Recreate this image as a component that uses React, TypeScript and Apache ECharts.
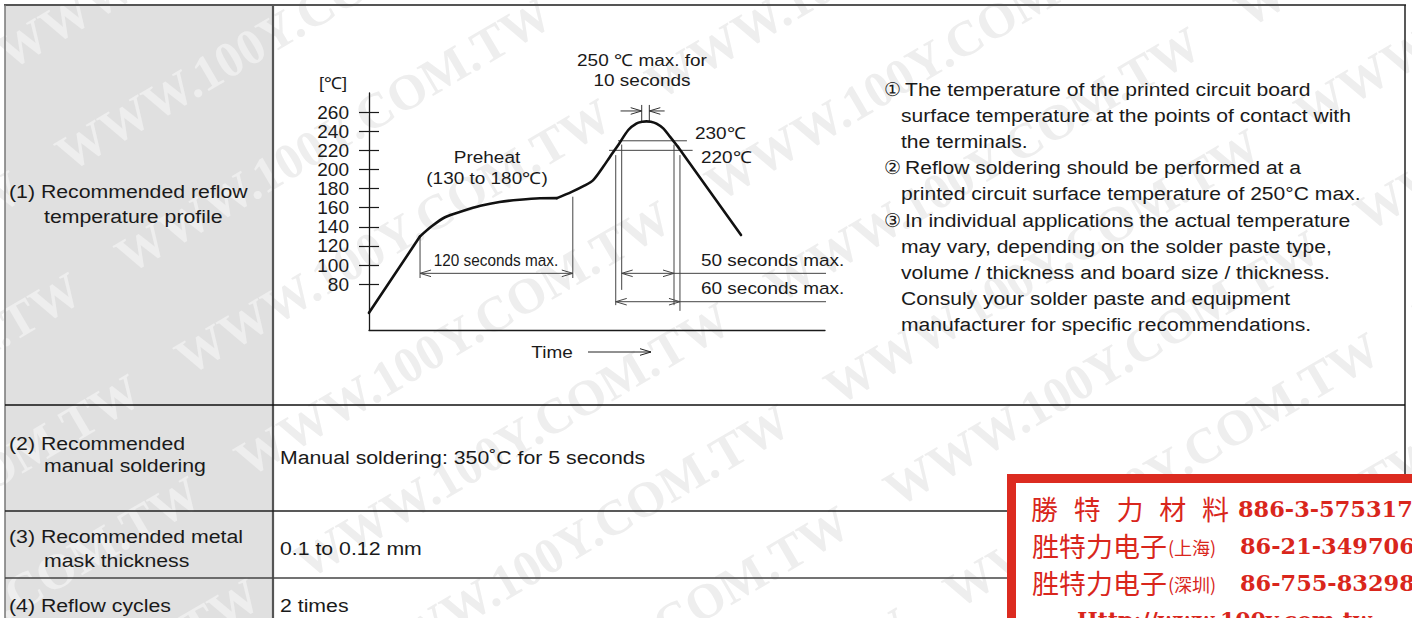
import React, { useEffect, useRef } from "react";
import * as echarts from "echarts";

// ---------------- data ----------------
const yTickValues = [80, 100, 120, 140, 160, 180, 200, 220, 240, 260];

// reflow profile: time [s] / temperature [°C]
const profileTime = [0, 40.3, 50, 60, 74, 88, 103, 119, 135, 148.4, 160, 170, 177, 185, 190.3, 196.8, 204.7, 211, 216, 219, 222.5, 227, 232.3, 237.6, 244, 293.7];
const profileTemp = [50, 130, 141, 150, 156.5, 162, 166, 168.3, 169.8, 170, 176.5, 183, 188.8, 203, 213.4, 225.6, 241.3, 248, 250, 250.3, 250, 248, 243, 234.3, 223.5, 131.4];

// limit lines (230 °C and 220 °C)
const limitTemps = [230, 220];
const limitStart = [196.6, 189.5];
const limitEnd = [251, 255.5];

// vertical guides of the 50 s / 60 s windows
const guideTimes = [194.8, 199.5, 240.8, 245.5];
const guideTop = [215, 226, 226, 215];
const guideBottom = [58, 74, 58, 52];

// preheat window (120 s max.)
const preheatWindow = [40.3, 160.9];
const preheatGuideTop = [130, 171.5];
const preheatGuideBottom = 86.4;
const preheatArrowTemp = 91.3;

// 50 s / 60 s windows
const window50 = [199.5, 240.8];
const window50Temp = 91.3;
const window60 = [194.8, 245.5];
const window60Temp = 61.6;
const leaderEnd = 376;

// peak window (250 °C max. for 10 seconds)
const peakWindow = [215.3, 221.3];
const peakArrowTails = [198.6, 233.4];
const peakArrowTemp = 261.2;
const peakTickTop = 267.5;
const peakTemp = 250;

// ---------------- layout ----------------
const W = 1412;
const H = 618;
const X_MIN = 0, X_MAX = 360, Y_MIN = 32, Y_MAX = 280;
const G_LEFT = 369, G_TOP = 93, G_W = 456, G_H = 237;
const FONT = "'Liberation Sans', Arial, Helvetica, sans-serif";
const INK = "#1a1a1a";

function txt(text: string, x: number, y: number, o: any = {}) {
  const align = o.align ?? "left";
  return {
    type: "text",
    x,
    y,
    scaleX: o.sx ?? 1.12,
    z: o.z ?? 100,
    silent: true,
    style: {
      text,
      fontSize: o.size ?? 19,
      fontFamily: o.family ?? FONT,
      fontWeight: o.weight ?? "normal",
      fill: o.color ?? INK,
      align,
      textAlign: align,
      verticalAlign: "middle",
      textVerticalAlign: "middle",
    },
  };
}

function hline(x1: number, x2: number, y: number, color = "#222", w = 1.5, z = 90) {
  return { type: "line", z, silent: true, shape: { x1, y1: y, x2, y2: y }, style: { stroke: color, lineWidth: w } };
}
function vline(x: number, y1: number, y2: number, color = "#222", w = 1.5, z = 90) {
  return { type: "line", z, silent: true, shape: { x1: x, y1, x2: x, y2 }, style: { stroke: color, lineWidth: w } };
}

export default function App() {
  const ref = useRef<HTMLDivElement>(null);

  useEffect(() => {
    document.body.style.margin = "0";
    if (!ref.current) return;
    const chart = echarts.init(ref.current, undefined, { renderer: "svg", width: W, height: H });

    const pxPerSec = G_W / (X_MAX - X_MIN);
    const pxPerDeg = G_H / (Y_MAX - Y_MIN);
    const head = (t: number, T: number, dir: number) => {
      const dt = (11 / pxPerSec) * dir;
      const dT = 3.3 / pxPerDeg;
      return [[t - dt, T + dT], [t, T], [t - dt, T - dT]];
    };

    const pts = profileTime.map((t, i) => [t, profileTemp[i]]);
    const last = pts.length - 1;
    const pieces: [number, number, number][] = [
      [0, 1, 0],
      [1, 9, 0.3],
      [9, last - 1, 0.3],
      [last - 1, last, 0],
    ];
    const profileSeries = pieces.map(([a, b, s]) => ({
      type: "line",
      data: pts.slice(a, b + 1),
      smooth: s,
      showSymbol: false,
      symbol: "none",
      clip: false,
      silent: true,
      z: 5,
      lineStyle: { color: "#111", width: 2.6, cap: "round", join: "round" },
    }));

    const segs: { d: number[][]; c?: string; w?: number }[] = [];
    limitTemps.forEach((T, i) => segs.push({ d: [[limitStart[i], T], [limitEnd[i], T]], c: "#444" }));
    guideTimes.forEach((t, i) => segs.push({ d: [[t, guideTop[i]], [t, guideBottom[i]]], c: "#444" }));
    preheatWindow.forEach((t, i) => segs.push({ d: [[t, preheatGuideTop[i]], [t, preheatGuideBottom]], c: "#444" }));
    segs.push({ d: [[preheatWindow[0], preheatArrowTemp], [preheatWindow[1], preheatArrowTemp]], c: "#444" });
    segs.push({ d: head(preheatWindow[0], preheatArrowTemp, -1), c: "#444" });
    segs.push({ d: head(preheatWindow[1], preheatArrowTemp, 1), c: "#444" });
    segs.push({ d: [[window50[0], window50Temp], [window50[1], window50Temp]], c: "#444" });
    segs.push({ d: head(window50[0], window50Temp, -1), c: "#444" });
    segs.push({ d: head(window50[1], window50Temp, 1), c: "#444" });
    segs.push({ d: [[window50[1], window50Temp], [leaderEnd, window50Temp]], c: "#444" });
    segs.push({ d: [[window60[0], window60Temp], [window60[1], window60Temp]], c: "#444" });
    segs.push({ d: head(window60[0], window60Temp, -1), c: "#444" });
    segs.push({ d: head(window60[1], window60Temp, 1), c: "#444" });
    segs.push({ d: [[window60[1], window60Temp], [leaderEnd, window60Temp]], c: "#444" });
    peakWindow.forEach((t) => segs.push({ d: [[t, peakTickTop], [t, peakTemp]], c: "#333" }));
    segs.push({ d: [[peakArrowTails[0], peakArrowTemp], [peakWindow[0], peakArrowTemp]], c: "#333" });
    segs.push({ d: head(peakWindow[0], peakArrowTemp, 1), c: "#333" });
    segs.push({ d: [[peakArrowTails[1], peakArrowTemp], [peakWindow[1], peakArrowTemp]], c: "#333" });
    segs.push({ d: head(peakWindow[1], peakArrowTemp, -1), c: "#333" });

    const segSeries = segs.map((s) => ({
      type: "line",
      data: s.d,
      showSymbol: false,
      symbol: "none",
      clip: false,
      silent: true,
      z: 4,
      lineStyle: { color: s.c ?? "#333", width: s.w ?? 1 },
    }));

    // ----- graphics: table, notes, watermark, stamp -----
    const g: any[] = [];
    g.push({ type: "rect", z: -100, silent: true, shape: { x: 0, y: 0, width: W, height: H }, style: { fill: "#ffffff" } });
    g.push({ type: "rect", z: -99, silent: true, shape: { x: 5, y: 5, width: 268, height: H }, style: { fill: "#e0e0e0" } });

    // watermark
    const a = 0.53;
    const ux = Math.cos(a), uy = -Math.sin(a), vx = Math.sin(a), vy = Math.cos(a);
    for (let j = -10; j <= 14; j++) {
      for (let i = -4; i <= 5; i++) {
        const x = 120 + i * 545 * ux + j * 118 * vx;
        const y = 260 + i * 545 * uy + j * 118 * vy;
        if (x < -560 || x > 1420 || y < -60 || y > 900) continue;
        g.push({
          type: "text",
          x,
          y,
          rotation: a,
          z: -50,
          silent: true,
          style: {
            text: "WWW.100Y.COM.TW",
            fontSize: 50,
            fontWeight: "bold",
            fontFamily: "'Liberation Serif', 'DejaVu Serif', serif",
            fill: "#eeeeee",
            verticalAlign: "middle",
            textVerticalAlign: "middle",
          },
        });
      }
    }

    // table lines
    g.push(hline(4, 1406, 5, "#555", 2));
    g.push(vline(5, 5, H, "#777", 1.5));
    g.push(vline(1405, 5, H, "#222", 1.5));
    g.push(vline(273, 5, H, "#555", 2.2));
    g.push(hline(5, 1405, 405, "#111", 1.6));
    g.push(hline(5, 1405, 511, "#222", 1.4));
    g.push(hline(5, 1405, 578, "#444", 1.6));

    // left column
    g.push(txt("(1) Recommended reflow", 9, 191));
    g.push(txt("temperature profile", 44, 216));
    g.push(txt("(2) Recommended", 9, 443));
    g.push(txt("manual soldering", 44, 465));
    g.push(txt("(3) Recommended metal", 9, 536));
    g.push(txt("mask thickness", 44, 560));
    g.push(txt("(4) Reflow cycles", 9, 605));
    // right column
    g.push(txt("Manual soldering: 350˚C for 5 seconds", 280, 457));
    g.push(txt("0.1 to 0.12 mm", 280, 548));
    g.push(txt("2 times", 280, 605));

    // chart annotations
    const A = { size: 16.5, sx: 1.15 };
    g.push(txt("[℃]", 333, 83, { align: "center", size: 16.5, sx: 1.1 }));
    g.push(txt("250 ℃ max. for", 642, 60, { align: "center", ...A }));
    g.push(txt("10 seconds", 642, 80, { align: "center", ...A }));
    g.push(txt("230℃", 695, 133, A));
    g.push(txt("220℃", 701, 157, A));
    g.push(txt("Preheat", 487, 157, { align: "center", ...A }));
    g.push(txt("(130 to 180℃)", 487, 178, { align: "center", ...A }));
    g.push(txt("120 seconds max.", 496, 260, { align: "center", size: 16.5, sx: 0.93 }));
    g.push(txt("50 seconds max.", 701, 260, A));
    g.push(txt("60 seconds max.", 701, 288, A));
    g.push(txt("Time", 552, 352, { align: "center", ...A }));
    g.push(hline(588, 651, 352, "#222", 1, 95));
    g.push({
      type: "polyline",
      z: 95,
      silent: true,
      shape: { points: [[640, 348.7], [651, 352], [640, 355.3]] },
      style: { stroke: "#222", lineWidth: 1, fill: "none" },
    });

    // notes
    const notes: [string, string][] = [
      ["①", "The temperature of the printed circuit board"],
      ["", "surface temperature at the points of contact with"],
      ["", "the terminals."],
      ["②", "Reflow soldering should be performed at a"],
      ["", "printed circuit surface temperature of 250°C max."],
      ["③", "In individual applications the actual temperature"],
      ["", "may vary, depending on the solder paste type,"],
      ["", "volume / thickness and board size / thickness."],
      ["", "Consuly your solder paste and equipment"],
      ["", "manufacturer for specific recommendations."],
    ];
    notes.forEach(([mark, line], i) => {
      const y = 89 + i * 26.2;
      if (mark) {
        g.push(txt(mark, 884, y, { size: 19, sx: 1 }));
        g.push(txt(line, 905, y, { sx: 1.11 }));
      } else {
        g.push(txt(line, 901, y, { sx: 1.11 }));
      }
    });

    // stamp
    const RED = "#d9261c";
    g.push({ type: "rect", z: 300, silent: true, shape: { x: 1007, y: 474, width: 420, height: 160 }, style: { fill: "#dc2b20" } });
    g.push({ type: "rect", z: 301, silent: true, shape: { x: 1016, y: 483, width: 410, height: 150 }, style: { fill: "#ffffff" } });
    const CJK = "'Noto Sans CJK TC', 'Noto Sans CJK SC', sans-serif";
    const SERIF = "'DejaVu Serif', 'Liberation Serif', serif";
    ["勝", "特", "力", "材", "料"].forEach((c, i) =>
      g.push(txt(c, 1044.5 + i * 42.75, 508, { align: "center", size: 27, sx: 1, family: CJK, color: RED, z: 310 }))
    );
    g.push(txt("886-3-5753170", 1238, 509, { size: 22, sx: 1.02, family: SERIF, weight: "bold", color: RED, z: 310 }));
    g.push(txt("胜特力电子", 1032, 545, { size: 27, sx: 1, family: CJK, color: RED, z: 310 }));
    g.push(txt("(上海)", 1168, 547, { size: 18, sx: 1, family: CJK, color: RED, z: 310 }));
    g.push(txt("86-21-34970699", 1240, 546, { size: 22, sx: 1.02, family: SERIF, weight: "bold", color: RED, z: 310 }));
    g.push(txt("胜特力电子", 1032, 582, { size: 27, sx: 1, family: CJK, color: RED, z: 310 }));
    g.push(txt("(深圳)", 1168, 584, { size: 18, sx: 1, family: CJK, color: RED, z: 310 }));
    g.push(txt("86-755-83298787", 1240, 583, { size: 22, sx: 1.02, family: SERIF, weight: "bold", color: RED, z: 310 }));
    g.push(txt("Http://www.100y.com.tw", 1077, 620, { size: 22, sx: 1, family: SERIF, weight: "bold", color: RED, z: 310 }));

    const axisLineStyle = { color: "#1a1a1a", width: 1.3 };
    chart.setOption({
      animation: false,
      backgroundColor: "transparent",
      grid: { left: G_LEFT, top: G_TOP, width: G_W, height: G_H, containLabel: false, outerBoundsMode: "none" },
      xAxis: {
        type: "value",
        min: X_MIN,
        max: X_MAX,
        axisLine: { show: true, onZero: false, lineStyle: axisLineStyle },
        axisTick: { show: false },
        axisLabel: { show: false },
        splitLine: { show: false },
      },
      yAxis: [
        {
          type: "value",
          min: Y_MIN,
          max: Y_MAX,
          position: "left",
          axisLine: { show: true, onZero: false, lineStyle: axisLineStyle },
          axisTick: { show: true, length: 10, customValues: yTickValues, lineStyle: { color: "#1a1a1a", width: 1.2 } },
          axisLabel: { show: true, customValues: yTickValues, margin: 20, fontSize: 19, fontFamily: FONT, color: INK },
          splitLine: { show: false },
        },
        {
          type: "value",
          min: Y_MIN,
          max: Y_MAX,
          position: "left",
          axisLine: { show: false, onZero: false },
          axisTick: { show: true, inside: true, length: 10, customValues: yTickValues, lineStyle: { color: "#1a1a1a", width: 1.2 } },
          axisLabel: { show: false },
          splitLine: { show: false },
        },
      ],
      series: [...profileSeries, ...segSeries],
      graphic: { elements: g },
    });

    return () => chart.dispose();
  }, []);

  return <div ref={ref} style={{ width: W, height: H }} />;
}
